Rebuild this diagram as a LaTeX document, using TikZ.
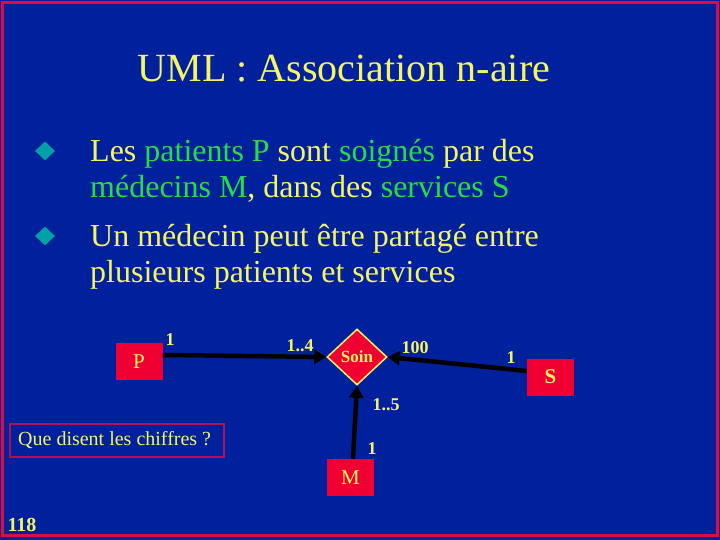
\documentclass[tikz,border=0pt]{standalone}
\usepackage{fontspec}
\setmainfont{Liberation Serif}
\usetikzlibrary{shapes.geometric,arrows.meta}
\definecolor{bg}{RGB}{0,32,156}
\definecolor{fr}{RGB}{225,10,70}
\definecolor{yl}{RGB}{245,245,100}
\definecolor{gr}{RGB}{40,220,70}
\definecolor{tl}{RGB}{0,160,165}
\definecolor{bx}{RGB}{240,0,50}
\tikzset{
  cls/.style={draw=none,fill=bx,minimum width=47pt,minimum height=37pt,inner sep=0pt,text=yl,font=\fontsize{21}{21}\selectfont},
  mult/.style={text=yl,font=\bfseries\fontsize{18}{18}\selectfont,inner sep=0pt},
  link/.style={line width=4.5pt,-{Triangle[length=12pt,width=14pt]}},
  bul/.style={fill=tl,diamond,minimum width=20pt,minimum height=19pt,inner sep=0pt},
  txt/.style={text=yl,anchor=base west,inner sep=0pt,font=\fontsize{32}{32}\selectfont}
}
\begin{document}
\begin{tikzpicture}[x=1pt,y=-1pt]
\useasboundingbox (0,0) rectangle (720,540);
\fill[bg] (0,0) rectangle (720,540);
\draw[fr,line width=3pt] (2.5,2.5) rectangle (717,535.5);
\node[text=yl,font=\fontsize{40}{40}\selectfont,anchor=base,inner sep=0pt] (title) at (344,82) {UML : Association n-aire};
\node[bul] (b1) at (45,151) {};
\node[txt] (l1) at (90,162) {Les \textcolor{gr}{patients P} sont \textcolor{gr}{soignés} par des};
\node[txt] (l2) at (90,197) {\textcolor{gr}{médecins M}, dans des \textcolor{gr}{services S}};
\node[bul] (b2) at (45,236) {};
\node[txt] (l3) at (90,246) {Un médecin peut être partagé entre};
\node[txt] (l4) at (90,282) {plusieurs patients et services};
\node[cls] (P) at (139,361.5) {P};
\node[cls] (S) at (550.5,377) {\bfseries S};
\node[cls] (M) at (350.5,477.5) {M};
\node[diamond,fill=bx,draw=yl,line width=1.5pt,minimum width=60pt,minimum height=56pt,inner sep=0pt,text=yl,font=\bfseries\fontsize{17}{17}\selectfont] (soin) at (357,357) {Soin};
\draw[link] (P.east |- 0,355) coordinate (pe) -- (soin.west);
\draw[link] (S.west |- 0,371) coordinate (se) -- (soin.east);
\draw[link] (M.north -| 353,0) coordinate (mn) -- (soin.south);
\node[mult] (m1) at (170,340) {1};
\node[mult] (m2) at (300,346) {1..4};
\node[mult] (m3) at (415,348) {100};
\node[mult] (m4) at (511,358) {1};
\node[mult] (m5) at (386,405) {1..5};
\node[mult] (m6) at (372,449) {1};
\node[draw=fr!80!bg,line width=1.5pt,minimum width=214pt,minimum height=33pt,inner sep=0pt] (q) at (117,440.5) {};
\node[text=yl,font=\fontsize{20}{20}\selectfont,anchor=west,inner sep=0pt] (qt) at (18,440) {Que disent les chiffres ?};
\node[mult,font=\bfseries\fontsize{20}{20}\selectfont] (num) at (22,525) {118};
\end{tikzpicture}
\end{document}
